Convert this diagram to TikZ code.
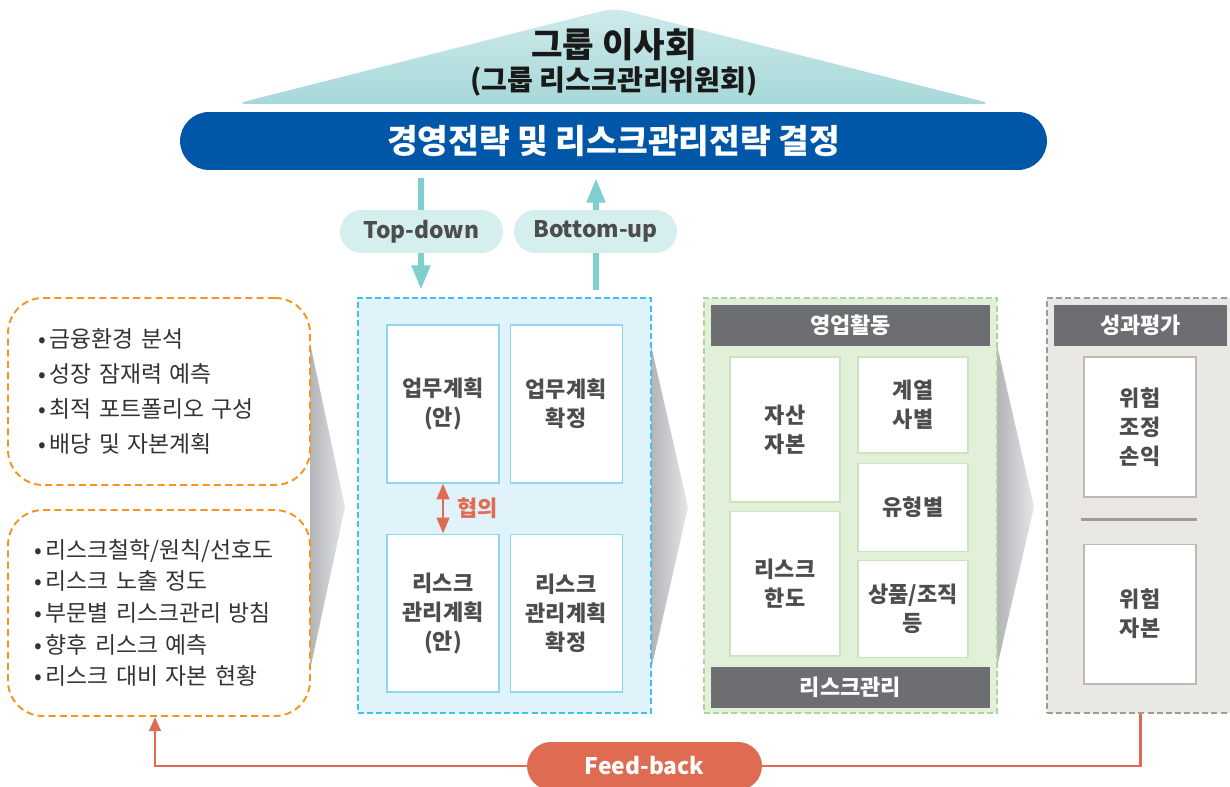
\documentclass[tikz,border=0pt]{standalone}
\usepackage{fontspec}
\setmainfont{Noto Sans CJK KR}
\usetikzlibrary{shapes, arrows.meta, positioning}
\definecolor{boardtop}{HTML}{CFEAEB}
\definecolor{boardbot}{HTML}{A7D8D9}
\definecolor{stratblue}{HTML}{0057A8}
\definecolor{flowteal}{HTML}{7FCFCF}
\definecolor{pillteal}{HTML}{D5EEEE}
\definecolor{listorange}{HTML}{F7941D}
\definecolor{planfill}{HTML}{E0F2FA}
\definecolor{planline}{HTML}{3DC2EE}
\definecolor{planedge}{HTML}{8ED6F2}
\definecolor{salesfill}{HTML}{E2F0DA}
\definecolor{salesline}{HTML}{A9D898}
\definecolor{salesedge}{HTML}{C9E5BD}
\definecolor{evalfill}{HTML}{E9E8E4}
\definecolor{evalline}{HTML}{A39B93}
\definecolor{evaledge}{HTML}{BDB8B2}
\definecolor{headgray}{HTML}{6D6E71}
\definecolor{fbred}{HTML}{E06B53}
\definecolor{txtgray}{HTML}{4D4D4F}
\definecolor{chevdark}{HTML}{B3B4B8}
\definecolor{chevlight}{HTML}{E6E6E8}
\tikzstyle{every node}=[font=\bfseries, inner sep=0pt]
\tikzstyle{flow}=[draw=flowteal, line width=3.4pt, -{Triangle[length=14pt,width=10pt]}]
\tikzstyle{pill}=[fill=pillteal, minimum width=3.26cm, minimum height=0.86cm, rounded corners=0.43cm, text=txtgray, font=\bfseries\fontsize{13}{15}\selectfont]
\tikzstyle{listbox}=[draw=listorange, line width=1.1pt, dash pattern=on 4pt off 2.4pt, rounded corners=0.7cm, minimum width=6.04cm, align=left, text=black!80]
\tikzstyle{chevron}=[left color=chevdark, right color=chevlight]
\tikzstyle{frame}=[line width=1.1pt, dash pattern=on 3.4pt off 1.8pt, minimum width=5.86cm, minimum height=8.3cm]
\tikzstyle{pbox}=[draw=planedge, fill=white, line width=0.6pt, minimum width=2.24cm, minimum height=3.16cm, align=center, text=txtgray, font=\bfseries\fontsize{12.5}{16.5}\selectfont]
\tikzstyle{sbox}=[pbox, draw=salesedge, minimum width=2.2cm]
\tikzstyle{ebox}=[pbox, draw=evaledge, minimum height=2.8cm]
\tikzstyle{hbar}=[fill=headgray, text=white, minimum height=0.82cm, font=\bfseries\fontsize{12.5}{15}\selectfont]
\tikzstyle{fbline}=[draw=fbred, line width=1.5pt]

\begin{document}
\begin{tikzpicture}[x=0.02cm, y=-0.02cm, >={Triangle[length=8pt,width=6.5pt]}]
    \useasboundingbox (0,0) rectangle (1230,787);
    \shade[top color=boardtop, bottom color=boardbot, rounded corners=7pt] (614,8) -- (993,104) -- (235,104) -- cycle;
    \node[text=black!90, font=\bfseries\fontsize{19.5}{22}\selectfont] (board) at (614,45) {그룹 이사회};
    \node[text=black!90, font=\bfseries\fontsize{16}{18}\selectfont] (committee) at (614,82) {(그룹 리스크관리위원회)};
    \node[fill=stratblue, text=white, minimum width=17.34cm, minimum height=1.16cm, rounded corners=0.58cm, font=\bfseries\fontsize{19}{22}\selectfont] (strategy) at (613.5,141) {경영전략 및 리스크관리전략 결정};

    \coordinate (tdstart) at (421,178);
    \coordinate (tdend) at (421,290);
    \coordinate (bustart) at (596,290);
    \coordinate (buend) at (596,178);
    \draw[flow] (tdstart) -- (tdend);
    \draw[flow] (bustart) -- (buend);
    \node[pill] (topdown) at (421.5,231.5) {Top-down};
    \node[pill] (bottomup) at (595.5,231.5) {Bottom-up};

    \shade[chevron] (310,343) -- (345,507) -- (310,670) -- cycle;
    \shade[chevron] (651,345) -- (688,507) -- (651,670) -- cycle;
    \shade[chevron] (997,345) -- (1034,507) -- (997,667) -- cycle;

    \node[listbox, minimum height=3.74cm, text width=4.84cm, font=\fontsize{13}{20}\selectfont] (envbox) at (159,391.5) {•\,금융환경 분석\\•\,성장 잠재력 예측\\•\,최적 포트폴리오 구성\\•\,배당 및 자본계획};
    \node[listbox, minimum height=4.12cm, text width=5.0cm, font=\fontsize{13}{18}\selectfont] (riskbox) at (159,613) {•\,리스크철학/원칙/선호도\\•\,리스크 노출 정도\\•\,부문별 리스크관리 방침\\•\,향후 리스크 예측\\•\,리스크 대비 자본 현황};

    \node[frame, draw=planline, fill=planfill] (planning) at (504.5,505.5) {};
    \node[pbox] (bizdraft) at (443,404) {업무계획\\(안)};
    \node[pbox, right=0.2cm of bizdraft] (bizfinal) {업무계획\\확정};
    \node[pbox, below=1cm of bizdraft] (riskdraft) {리스크\\관리계획\\(안)};
    \node[pbox, below=1cm of bizfinal] (riskfinal) {리스크\\관리계획\\확정};
    \draw[draw=fbred, line width=1.7pt, {Triangle[length=9pt,width=7pt]}-{Triangle[length=9pt,width=7pt]}] (bizdraft.south) -- node[right=0.26cm, text=fbred, font=\bfseries\fontsize{12.5}{15}\selectfont] (consult) {협의} (riskdraft.north);

    \node[frame, draw=salesline, fill=salesfill] (sales) at (850.5,505.5) {};
    \node[hbar, minimum width=5.58cm] (salestitle) at (850.5,325.5) {영업활동};
    \node[hbar, minimum width=5.58cm] (riskmgmt) at (850.5,687.5) {리스크관리};
    \node[sbox, minimum height=2.9cm] (capital) at (785,429.5) {자산\\자본};
    \node[sbox, minimum height=2.9cm, below=0.16cm of capital] (limit) {리스크\\한도};
    \node[sbox, minimum height=1.92cm] (affiliate) at (913,405) {계열\\사별};
    \node[sbox, minimum height=1.76cm, below=0.18cm of affiliate] (bytype) {유형별};
    \node[sbox, minimum height=1.94cm, below=0.16cm of bytype] (product) {상품/조직\\등};

    \node[frame, draw=evalline, fill=evalfill, minimum width=3.86cm] (evaluation) at (1143.5,505.5) {};
    \node[hbar, minimum width=3.46cm] (evaltitle) at (1140.5,325.5) {성과평가};
    \node[ebox] (raroc) at (1140,427) {위험\\조정\\손익};
    \node[ebox, below=0.92cm of raroc] (riskcap) {위험\\자본};
    \draw[evalline, line width=1.7pt] ([xshift=-0.06cm, yshift=-0.44cm]raroc.south west) -- ([yshift=-0.44cm]raroc.south east);

    \node[fill=fbred, text=white, minimum width=4.7cm, minimum height=0.96cm, rounded corners=0.48cm, font=\bfseries\fontsize{13}{15}\selectfont] (feedback) at (644.5,766) {Feed-back};
    \draw[fbline] (evaltitle.south |- evaluation.south) |- (feedback.east);
    \draw[fbline, ->] (feedback.west) -| ([xshift=-0.08cm]riskbox.south);
\end{tikzpicture}
\end{document}
